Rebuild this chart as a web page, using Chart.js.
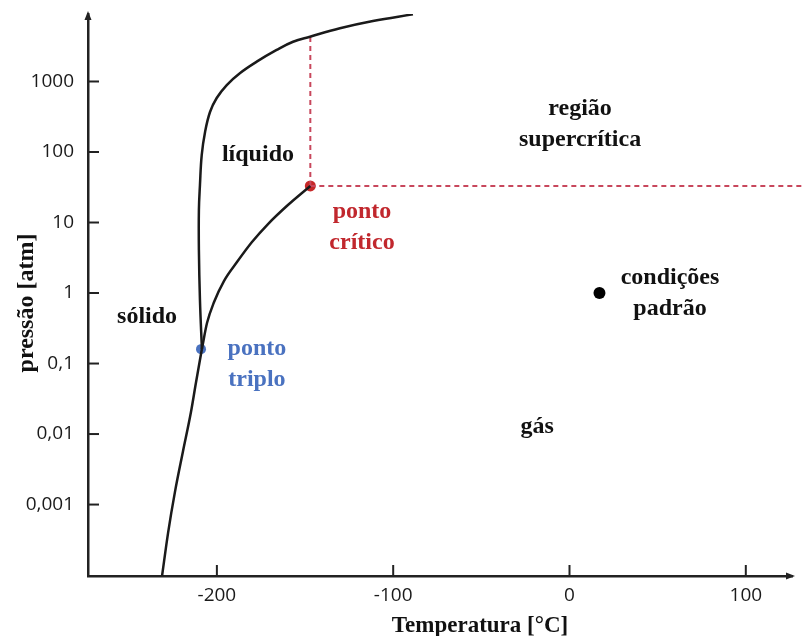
<!DOCTYPE html>
<html>
<head>
<meta charset="utf-8">
<script src="https://cdn.jsdelivr.net/npm/chart.js@4"></script>
<style>
  html, body { margin: 0; padding: 0; background: #fff; }
  #wrap { width: 805px; height: 636px; }
</style>
</head>
<body>
<div id="wrap"><canvas id="phaseChart"></canvas></div>
<script>
// fusion curve (solid/liquid), from the triple point upward
var meltT = [-208.5, -209.6, -210.2, -210.2, -209.6, -208.6, -206.7, -203.9, -200.1, -194.4, -186.8, -177.4, -166.1, -156.8, -147.2, -130.2, -111.5, -88.8];
var meltP = [0.161, 0.796, 4.07, 15.0, 34.0, 90.6, 192, 369, 583, 891, 1320, 1910, 2800, 3660, 4320, 5690, 7210, 8980];

// vaporization curve, triple point -> critical point
var vapT = [-208.5, -205.6, -201.6, -196.0, -188.6, -180.1, -171.0, -159.7, -147];
var vapP = [0.161, 0.375, 0.745, 1.48, 2.75, 5.29, 9.52, 17.7, 33];

// sublimation curve, bottom of the axis -> triple point
var subT = [-231.1, -227.7, -223.8, -219.3, -214.7, -211.9, -208.5];
var subP = [0.000097, 0.000394, 0.0015, 0.00556, 0.0205, 0.0529, 0.161];

// special points
var tripleT = -209, tripleP = 0.16;
var criticalT = -147, criticalP = 33;
var standardT = 17, standardP = 1;

// dashed limits of the supercritical region
var critVertP = [33, 4320];
var critHorizT = [-147, 134];

// ticks
var xTickValues = [-200, -100, 0, 100];
var yTickValues = [1000, 100, 10, 1, 0.1, 0.01, 0.001];
var yTickLabels = ["1000", "100", "10", "1", "0,1", "0,01", "0,001"];

function zip(xs, ys) {
  return xs.map(function (x, i) { return { x: x, y: ys[i] }; });
}

// region labels (text only), anchored at data coordinates (first line baseline)
var notes = [
  { lines: ["líquido"], t: -176.7, p: 74.5, color: "#111" },
  { lines: ["região", "supercrítica"], t: 6.0, p: 335, color: "#111" },
  { lines: ["ponto", "crítico"], t: -117.7, p: 11.6, color: "#c1272d" },
  { lines: ["condições", "padrão"], t: 57, p: 1.34, color: "#111" },
  { lines: ["sólido"], t: -239.6, p: 0.375, color: "#111" },
  { lines: ["ponto", "triplo"], t: -177.3, p: 0.132, color: "#4a72c0" },
  { lines: ["gás"], t: -18.4, p: 0.0103, color: "#111" }
];

var axisColor = "#222";

var decorPlugin = {
  id: "decor",
  afterDraw: function (chart) {
    var ctx = chart.ctx;
    var xs = chart.scales.x, ys = chart.scales.y;
    var area = chart.chartArea;
    ctx.save();
    ctx.strokeStyle = axisColor;
    ctx.fillStyle = axisColor;
    ctx.lineWidth = 2;

    // inward tick marks
    yTickValues.forEach(function (v) {
      var py = ys.getPixelForValue(v);
      ctx.beginPath();
      ctx.moveTo(area.left, py);
      ctx.lineTo(area.left + 11, py);
      ctx.stroke();
    });
    xTickValues.forEach(function (v) {
      var px = xs.getPixelForValue(v);
      ctx.beginPath();
      ctx.moveTo(px, area.bottom);
      ctx.lineTo(px, area.bottom - 11);
      ctx.stroke();
    });

    // arrow heads
    ctx.beginPath();
    ctx.moveTo(area.left, area.top - 3);
    ctx.lineTo(area.left - 3.5, area.top + 6);
    ctx.lineTo(area.left + 3.5, area.top + 6);
    ctx.closePath();
    ctx.fill();
    ctx.beginPath();
    ctx.moveTo(area.right + 3, area.bottom);
    ctx.lineTo(area.right - 6, area.bottom - 3.5);
    ctx.lineTo(area.right - 6, area.bottom + 3.5);
    ctx.closePath();
    ctx.fill();

    // region labels
    ctx.textAlign = "center";
    ctx.textBaseline = "alphabetic";
    ctx.font = 'bold 24px "Liberation Serif", "DejaVu Serif", serif';
    notes.forEach(function (n) {
      var px = xs.getPixelForValue(n.t);
      var py = ys.getPixelForValue(n.p);
      ctx.fillStyle = n.color;
      n.lines.forEach(function (line, i) {
        ctx.fillText(line, px, py + i * 31);
      });
    });

    // axis titles
    ctx.fillStyle = "#111";
    ctx.font = 'bold 23px "Liberation Serif", "DejaVu Serif", serif';
    ctx.fillText("Temperatura [°C]", 480, 632);
    ctx.font = 'bold 24px "Liberation Serif", "DejaVu Serif", serif';
    ctx.translate(33, 303);
    ctx.rotate(-Math.PI / 2);
    ctx.fillText("pressão [atm]", 0, 0);
    ctx.restore();
  }
};

var curveStyle = {
  borderColor: "#1a1a1a",
  borderWidth: 2.5,
  pointRadius: 0,
  showLine: true,
  tension: 0.4,
  fill: false
};

var dashStyle = {
  borderColor: "#c8475c",
  borderWidth: 2,
  borderDash: [5, 4],
  pointRadius: 0,
  showLine: true,
  tension: 0,
  clip: false
};

new Chart(document.getElementById("phaseChart").getContext("2d"), {
  type: "scatter",
  data: {
    datasets: [
      Object.assign({ label: "fusão", data: zip(meltT, meltP) }, curveStyle),
      Object.assign({ label: "vaporização", data: zip(vapT, vapP), cubicInterpolationMode: "monotone" }, curveStyle),
      Object.assign({ label: "sublimação", data: zip(subT, subP), cubicInterpolationMode: "monotone" }, curveStyle),
      Object.assign({ label: "limite vertical", data: zip([criticalT, criticalT], critVertP) }, dashStyle),
      Object.assign({ label: "limite horizontal", data: zip(critHorizT, [criticalP, criticalP]) }, dashStyle),
      {
        label: "ponto crítico",
        data: [{ x: criticalT, y: criticalP }],
        pointRadius: 5.5,
        backgroundColor: "#c62828",
        borderWidth: 0
      },
      {
        label: "ponto triplo",
        data: [{ x: tripleT, y: tripleP }],
        pointRadius: 5,
        backgroundColor: "#4a72c0",
        borderWidth: 0
      },
      {
        label: "condições padrão",
        data: [{ x: standardT, y: standardP }],
        pointRadius: 6,
        backgroundColor: "#000",
        borderWidth: 0
      }
    ]
  },
  options: {
    responsive: true,
    maintainAspectRatio: false,
    animation: false,
    layout: { padding: { left: 0, top: 14, right: 13, bottom: 0 } },
    plugins: {
      legend: { display: false },
      tooltip: { enabled: false }
    },
    scales: {
      x: {
        type: "linear",
        min: -273.1,
        max: 126.2,
        afterBuildTicks: function (scale) {
          scale.ticks = xTickValues.map(function (v) { return { value: v }; });
        },
        afterFit: function (scale) {
          scale.height = 60;
          scale.paddingLeft = 0;
          scale.paddingRight = 0;
        },
        grid: { display: false, drawTicks: false, tickLength: 0 },
        border: { display: true, color: axisColor, width: 2.5 },
        ticks: {
          color: "#1a1a1a",
          padding: 8,
          maxRotation: 0,
          font: { family: '"Open Sans", sans-serif', size: 19 },
          callback: function (value) { return String(value); }
        }
      },
      y: {
        type: "logarithmic",
        min: 0.000097,
        max: 9060,
        afterBuildTicks: function (scale) {
          scale.ticks = yTickValues.map(function (v) { return { value: v }; });
        },
        afterFit: function (scale) {
          scale.width = 88;
          scale.paddingTop = 0;
          scale.paddingBottom = 0;
        },
        grid: { display: false, drawTicks: false, tickLength: 0 },
        border: { display: true, color: axisColor, width: 2.5 },
        ticks: {
          color: "#1a1a1a",
          padding: 14,
          font: { family: '"Open Sans", sans-serif', size: 19 },
          callback: function (value) {
            var i = yTickValues.indexOf(value);
            return i >= 0 ? yTickLabels[i] : "";
          }
        }
      }
    }
  },
  plugins: [decorPlugin]
});
</script>
</body>
</html>
